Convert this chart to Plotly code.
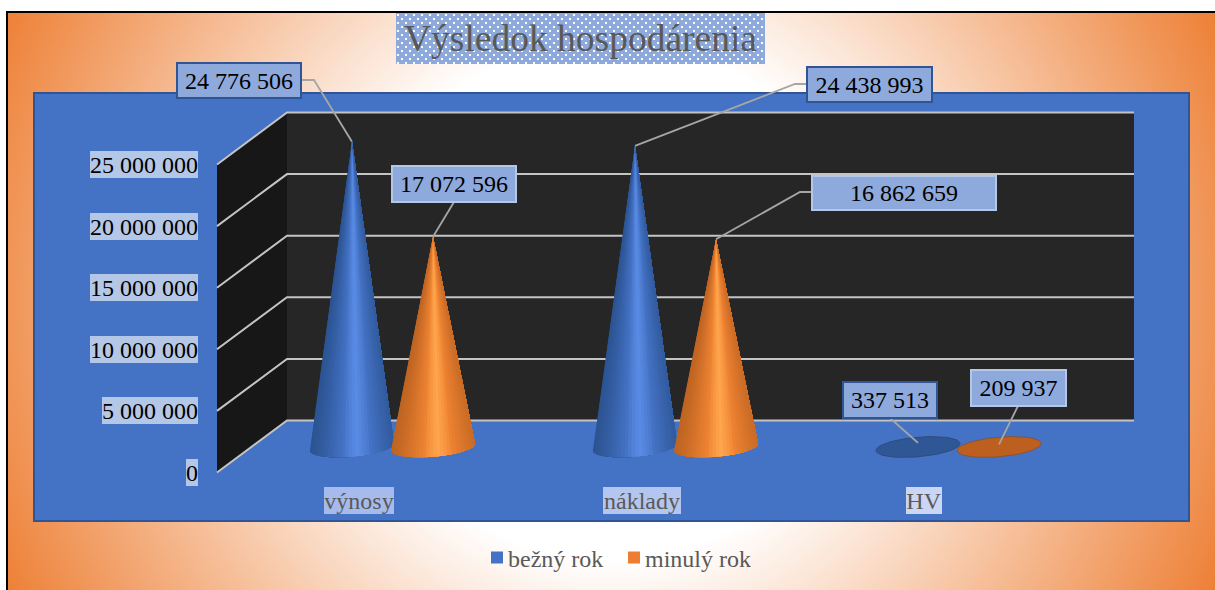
import base64, math
import plotly.graph_objects as go

# ---- data ----
categories = ["výnosy", "náklady", "HV"]
bezny_rok = [24776506, 24438993, 337513]
minuly_rok = [17072596, 16862659, 209937]
series_names = ["bežný rok", "minulý rok"]
y_ticks = [0, 5000000, 10000000, 15000000, 20000000, 25000000]
title_text = "Výsledok hospodárenia"

# ---- page geometry (pixels of the 1215x590 page) ----
W, H = 1215, 590
PX_PER_CAT = 283.0
CAT0_PX = 392.5
ZERO_PX = 472.5
PX_PER_UNIT = 12.32 / 1e6
FONT = "Liberation Serif"


def fx(px):
    return px / W


def fy(py):
    return 1 - py / H


def X(px):
    return (px - CAT0_PX) / PX_PER_CAT


def dV(dpx):
    """pixel offset upward -> value units"""
    return dpx / PX_PER_UNIT


def fmt(v):
    return f"{v:,}".replace(",", " ")


def mix(a, b, t):
    return "#%02x%02x%02x" % tuple(round(a[i] + (b[i] - a[i]) * t) for i in range(3))


fig = go.Figure()

# ---- 3D box: walls and gridlines, positioned from the tick values ----
wall_front, wall_back, wall_right = X(217), X(287), X(1134)
back_lift = dV(ZERO_PX - 420.5)
vmax = y_ticks[-1]
fig.add_trace(go.Scatter(
    x=[wall_back, wall_right, wall_right, wall_back, wall_back],
    y=[back_lift, back_lift, vmax + back_lift, vmax + back_lift, back_lift],
    mode="lines", fill="toself", fillcolor="#262626", line=dict(width=0),
    showlegend=False, hoverinfo="skip"))
fig.add_trace(go.Scatter(
    x=[wall_front, wall_back, wall_back, wall_front, wall_front],
    y=[0, back_lift, vmax + back_lift, vmax, 0],
    mode="lines", fill="toself", fillcolor="#171717", line=dict(width=0),
    showlegend=False, hoverinfo="skip"))
for t in y_ticks:
    fig.add_trace(go.Scatter(
        x=[wall_front, wall_back, wall_right],
        y=[t, t + back_lift, t + back_lift],
        mode="lines", line=dict(color="#C4C4C4", width=2),
        showlegend=False, hoverinfo="skip"))

# ---- cones ----
base_lift = dV(ZERO_PX - 447.0)
half_w, half_d, shear = 42.0, 9.8, 3.5
STRIPS = 36


def base_point(cx, th):
    xp = cx + half_w * math.cos(th) / PX_PER_CAT
    ypx = half_d * math.sin(th) - shear * math.cos(th)
    return xp, base_lift - dV(ypx)


def add_cone(cx, value, edge, mid, high, flat):
    if value * PX_PER_UNIT < half_d:
        ths = [2 * math.pi * i / 60 for i in range(61)]
        pts = [base_point(cx, th) for th in ths]
        fig.add_trace(go.Scatter(
            x=[p[0] for p in pts], y=[p[1] for p in pts],
            mode="lines", fill="toself", fillcolor=flat,
            line=dict(color=mix(edge, (60, 60, 90), 0.4), width=1),
            showlegend=False, hoverinfo="skip"))
        return
    apex_y = base_lift + value
    # strips are painted from the left edge, each one reaching under the next,
    # so that no seams remain between neighbouring fills
    for i in range(STRIPS):
        a = math.pi * (1 - i / STRIPS)
        m = math.pi * (1 - (i + 0.5) / STRIPS)
        nx = math.cos(m)
        d = abs(nx - 0.12) / 1.12
        if d > 0.3:
            col = mix(edge, mid, (1 - (d - 0.3) / 0.7) ** 1.2)
        else:
            col = mix(mid, high, (1 - d / 0.3) ** 0.8)
        steps = max(2, (STRIPS - i) // 2)
        arc = [base_point(cx, a * (1 - j / steps)) for j in range(steps + 1)]
        xs = [cx] + [p[0] for p in arc] + [cx]
        ys = [apex_y] + [p[1] for p in arc] + [apex_y]
        fig.add_trace(go.Scatter(
            x=xs, y=ys, mode="lines", fill="toself", fillcolor=col,
            line=dict(width=0),
            showlegend=False, hoverinfo="skip"))


OFFSET = 40.5 / PX_PER_CAT
for i, (a, b) in enumerate(zip(bezny_rok, minuly_rok)):
    add_cone(i - OFFSET, a, (44, 84, 146), (68, 114, 196), (90, 140, 230), "#2F5795")
    add_cone(i + OFFSET, b, (190, 100, 34), (237, 130, 50), (255, 166, 78), "#BD5F1E")

# ---- leader lines: start on the cone tips, end at the label boxes ----
leaders = [
    (0 - OFFSET, bezny_rok[0], [(314, 80), (301, 80)]),
    (0 + OFFSET, minuly_rok[0], [(454, 202)]),
    (1 - OFFSET, bezny_rok[1], [(795, 84), (807, 84)]),
    (1 + OFFSET, minuly_rok[1], [(800, 192), (812, 192)]),
    (2 - OFFSET, bezny_rok[2], [(890, 418)]),
    (2 + OFFSET, minuly_rok[2], [(1018, 406)]),
]
for cx, v, tail in leaders:
    xs = [cx] + [X(p[0]) for p in tail]
    ys = [base_lift + v] + [dV(ZERO_PX - p[1]) for p in tail]
    fig.add_trace(go.Scatter(x=xs, y=ys, mode="lines",
                             line=dict(color="#A6A6A6", width=1.8),
                             showlegend=False, hoverinfo="skip"))

# ---- legend entries ----
for name, col in zip(series_names, ["#4472C4", "#ED7D31"]):
    fig.add_trace(go.Scatter(x=[None], y=[None], mode="markers", name=name,
                             marker=dict(symbol="square", size=12, color=col)))

# ---- annotations ----
annotations = []
for t in y_ticks:
    annotations.append(dict(
        x=fx(198), xref="paper", xanchor="right", y=t, yref="y", yanchor="middle",
        text=fmt(t), showarrow=False, font=dict(family=FONT, size=24, color="#000000"),
        bgcolor="#B4C7E7", borderpad=0, borderwidth=0, height=27))

for name, cxp, wd, bg in zip(categories, [359, 642, 924], [70, 78, 36],
                             ["#A6BBEC", "#B4C6EE", "#CBD6F4"]):
    annotations.append(dict(
        x=fx(cxp), xref="paper", xanchor="center", y=fy(500.5), yref="paper", yanchor="middle",
        text=name, showarrow=False, font=dict(family=FONT, size=24, color="#595959"),
        bgcolor=bg, borderpad=0, borderwidth=0, width=wd, height=27))

label_boxes = [
    (bezny_rok[0], 239, 80.5, 124, 35, "#2F5597"),
    (minuly_rok[0], 454, 184, 124, 36, "#B4C7E7"),
    (bezny_rok[1], 869.5, 84.5, 125, 35, "#2F5597"),
    (minuly_rok[1], 904, 193, 184, 34, "#B4C7E7"),
    (bezny_rok[2], 890, 400, 94, 36, "#2F5597"),
    (minuly_rok[2], 1018.5, 388, 95, 36, "#B4C7E7"),
]
for v, cxp, cyp, wd, ht, border in label_boxes:
    annotations.append(dict(
        x=fx(cxp), xref="paper", xanchor="center", y=fy(cyp), yref="paper", yanchor="middle",
        text=fmt(v), showarrow=False, font=dict(family=FONT, size=24, color="#000000"),
        bgcolor="#8EA9DB", bordercolor=border, borderwidth=2, borderpad=0,
        width=wd - 2, height=ht - 2))

# ---- background images (gradient page and dotted title box) ----
bg_svg = f'''<svg xmlns="http://www.w3.org/2000/svg" width="{W}" height="{H}" viewBox="0 0 {W} {H}">
<defs><radialGradient id="g" gradientUnits="userSpaceOnUse" cx="610" cy="300" r="680">
<stop offset="0.38" stop-color="#FFFFFF"/><stop offset="1" stop-color="#ED7D31"/></radialGradient></defs>
<rect width="{W}" height="{H}" fill="#FFFFFF"/>
<rect x="7" y="12" width="{W}" height="{H}" fill="url(#g)"/></svg>'''
dots_svg = '''<svg xmlns="http://www.w3.org/2000/svg" width="369" height="51" viewBox="0 0 369 51">
<defs><pattern id="p" width="8" height="8" patternUnits="userSpaceOnUse">
<rect width="8" height="8" fill="#8EA9DB"/>
<rect x="1" y="1" width="2" height="2" fill="#FFFFFF"/><rect x="5" y="5" width="2" height="2" fill="#FFFFFF"/>
</pattern></defs><rect width="369" height="51" fill="url(#p)"/></svg>'''


def uri(s):
    return "data:image/svg+xml;base64," + base64.b64encode(s.encode()).decode()


images = [
    dict(source=uri(bg_svg), xref="paper", yref="paper", x=0, y=1, sizex=1, sizey=1,
         xanchor="left", yanchor="top", sizing="stretch", layer="below"),
    dict(source=uri(dots_svg), xref="paper", yref="paper", x=fx(396), y=fy(13),
         sizex=369 / W, sizey=51 / H, xanchor="left", yanchor="top", sizing="stretch", layer="below"),
]

shapes = [
    dict(type="rect", xref="paper", yref="paper", x0=fx(34), x1=fx(1189), y0=fy(93), y1=fy(521),
         fillcolor="#4472C4", line=dict(color="#2F5597", width=2), layer="below"),
    dict(type="path", xref="paper", yref="paper",
         path=f"M {fx(7)} {fy(590)} L {fx(7)} {fy(12)} L {fx(1215)} {fy(12)}",
         line=dict(color="#000000", width=2), layer="below"),
]

fig.update_layout(
    width=W, height=H,
    margin=dict(l=0, r=0, t=0, b=0, pad=0),
    autosize=False,
    paper_bgcolor="rgba(0,0,0,0)", plot_bgcolor="rgba(0,0,0,0)",
    title=dict(text=title_text, x=fx(580.5), xanchor="center", xref="paper",
               y=fy(38), yanchor="middle", yref="paper",
               font=dict(family=FONT, size=37.5, color="#595959")),
    xaxis=dict(range=[X(0), X(W)], visible=False, fixedrange=True),
    yaxis=dict(range=[dV(ZERO_PX - H), dV(ZERO_PX)], visible=False, fixedrange=True),
    legend=dict(orientation="h", x=fx(477), xanchor="left", y=fy(558), yanchor="middle",
                font=dict(family=FONT, size=24, color="#595959"),
                entrywidth=92, entrywidthmode="pixels",
                bgcolor="rgba(0,0,0,0)", itemclick=False, itemdoubleclick=False),
    annotations=annotations, images=images, shapes=shapes,
    hovermode=False,
)

fig.write_html("out.html", config=dict(displayModeBar=False),
               post_script="document.body.style.margin='0';document.documentElement.style.overflow='hidden';"
                           "document.querySelectorAll('.legendtext').forEach(function(t){t.setAttribute('x','31');});")
